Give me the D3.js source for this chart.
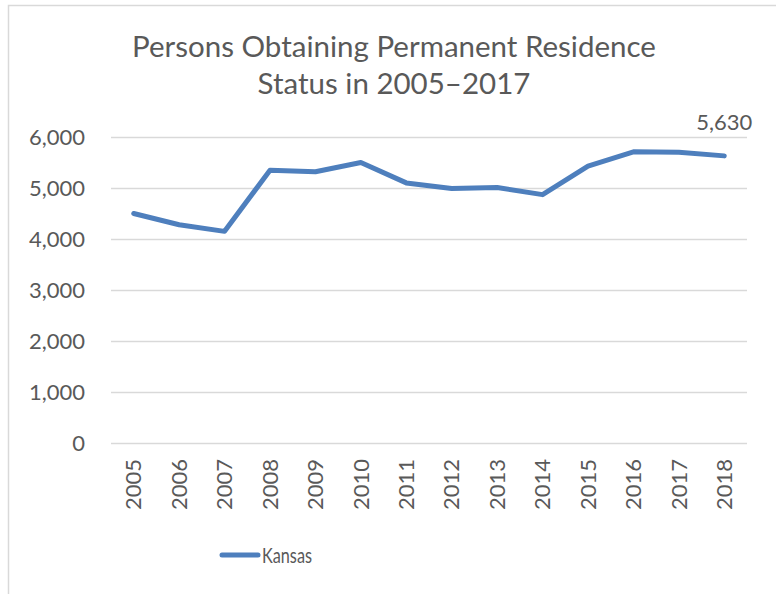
<!DOCTYPE html>
<html>
<head>
<meta charset="utf-8">
<script src="https://cdn.jsdelivr.net/npm/d3@7"></script>
<style>
  body { margin: 0; background: #fff; }
  text { font-family: Lato, "Open Sans", sans-serif; fill: #595959; }
</style>
</head>
<body>
<svg id="chart" width="776" height="594"></svg>
<script>
var years = ["2005", "2006", "2007", "2008", "2009", "2010", "2011",
             "2012", "2013", "2014", "2015", "2016", "2017", "2018"];
var kansas = [4500, 4280, 4150, 5350, 5320, 5500, 5100,
              4990, 5010, 4870, 5430, 5710, 5700, 5630];
var yTicks = [0, 1000, 2000, 3000, 4000, 5000, 6000];
var titleLines = ["Persons Obtaining Permanent Residence", "Status in 2005\u20132017"];
var seriesName = "Kansas";

var svg = d3.select("#chart"),
  color = "#4e7fbd",
  grid = "#d9d9d9";

// chart area frame (only top and left edges fall inside the picture)
svg.append("rect")
  .attr("x", 8.5).attr("y", 5.5)
  .attr("width", 800).attr("height", 620)
  .attr("fill", "none")
  .attr("stroke", grid)
  .attr("stroke-width", 1.5);

var x = d3.scaleBand()
  .domain(years)
  .range([111, 747]);

var y = d3.scaleLinear()
  .domain([0, 6000])
  .range([443, 137]);

// title
svg.append("text")
  .attr("x", 394)
  .attr("text-anchor", "middle")
  .style("font-size", "29.5px")
  .selectAll("tspan")
  .data(titleLines)
  .enter().append("tspan")
  .attr("x", 394)
  .attr("y", function(d, i) { return 57 + i * 37; })
  .text(function(d) { return d; });

// gridlines + y labels
var yAxis = d3.axisLeft(y)
  .tickValues(yTicks)
  .tickSize(-(747 - 111))
  .tickPadding(26)
  .tickFormat(d3.format(","));

svg.append("g")
  .attr("transform", "translate(111,0)")
  .call(yAxis)
  .call(function(g) {
    g.select(".domain").remove();
    g.selectAll(".tick line").attr("stroke", grid).attr("stroke-width", 1.3);
    g.selectAll(".tick text")
      .attr("fill", "#595959")
      .style("font-size", "22px")
      .style("font-family", "Lato, 'Open Sans', sans-serif");
  });

// x labels
var xAxis = d3.axisBottom(x).tickSize(0).tickPadding(0);

svg.append("g")
  .attr("transform", "translate(0,443)")
  .call(xAxis)
  .call(function(g) {
    g.select(".domain").remove();
    g.selectAll(".tick text")
      .attr("fill", "#595959")
      .style("font-size", "22px")
      .style("font-family", "Lato, 'Open Sans', sans-serif")
      .attr("text-anchor", "end")
      .attr("dy", "0.35em")
      .attr("transform", "translate(0,16) rotate(-90)");
  });

// line
var line = d3.line()
  .x(function(d, i) { return x(years[i]) + x.bandwidth() / 2; })
  .y(function(d) { return y(d); });

svg.append("path")
  .datum(kansas)
  .attr("d", line)
  .attr("fill", "none")
  .attr("stroke", color)
  .attr("stroke-width", 5)
  .attr("stroke-linejoin", "round")
  .attr("stroke-linecap", "round");

// last point label
var last = kansas.length - 1;
svg.append("text")
  .attr("x", x(years[last]) + x.bandwidth() / 2)
  .attr("y", y(kansas[last]) - 26)
  .attr("text-anchor", "middle")
  .style("font-size", "22px")
  .text(d3.format(",")(kansas[last]));

// legend (the entry is drawn condensed in the original)
var legend = svg.append("g").attr("transform", "translate(222,555)");
legend.append("line")
  .attr("x1", 0).attr("x2", 36)
  .attr("stroke", color)
  .attr("stroke-width", 5)
  .attr("stroke-linecap", "round");
legend.append("text")
  .attr("x", 40)
  .attr("dy", "0.35em")
  .attr("textLength", 50)
  .attr("lengthAdjust", "spacingAndGlyphs")
  .style("font-size", "22px")
  .text(seriesName);
</script>
</body>
</html>
